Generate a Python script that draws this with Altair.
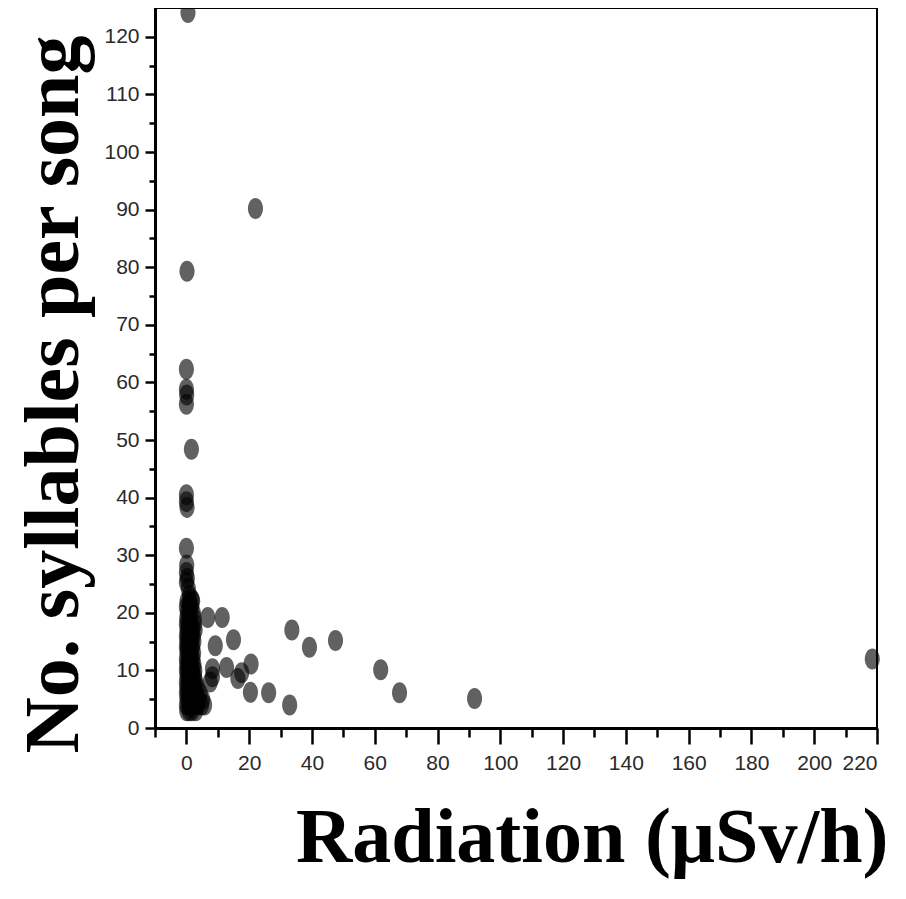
import altair as alt
import pandas as pd

# ---- data (radiation µSv/h, syllables per song) ----
radiation = [
    # high outliers near zero radiation
    0.5, 0.2, 0.0, 0.0, 0.1, 0.0, 0.0, 1.6,
    0.0, 0.2, 0.0,
    0.1, 0.0, 0.3, 0.0, 0.6, 1.8, 1.0,
    # dense cluster
    0.2, 1.0, 2.0,
    0.0, 0.8, 1.6,
    0.3, 1.2, 2.2,
    0.1, 0.9, 2.5,
    0.0, 0.6, 1.4, 2.6,
    0.2, 1.0, 2.0, 2.8,
    0.0, 0.5, 1.3, 2.2,
    0.1, 0.8, 1.7, 2.4,
    0.0, 0.4, 1.1, 2.0,
    0.2, 0.9, 1.6, 2.3,
    0.0, 0.6, 1.3, 2.1,
    0.1, 0.7, 1.5, 2.4,
    0.0, 0.5, 1.2, 2.0, 2.7,
    0.2, 0.9, 1.8, 2.6,
    0.0, 0.6, 1.4, 2.3, 3.0,
    0.1, 0.8, 1.7, 2.8, 3.5,
    0.0, 0.5, 1.3, 2.2, 3.2, 4.4,
    0.2, 1.0, 2.0, 3.0, 4.0, 5.2,
    0.0, 0.7, 1.6, 2.5, 3.6, 4.8, 5.8,
    0.1, 0.9, 1.8, 3.0,
    # spread-out points
    22.0, 6.8, 11.4, 33.6, 9.2, 15.0, 39.2, 47.5,
    8.3, 12.8, 20.6, 8.3, 16.4, 17.6, 7.6,
    20.4, 26.2, 32.9, 61.9, 67.9, 91.8, 218.5,
]
syllables = [
    124.2, 79.3, 62.3, 58.8, 57.8, 56.2, 40.5, 48.4,
    39.3, 38.3, 31.2,
    28.3, 27.0, 26.0, 25.3, 24.2, 22.3, 23.0,
    22, 22, 22,
    21, 21, 21,
    20, 20, 20,
    19, 19, 19,
    18, 18, 18, 18,
    17, 17, 17, 17,
    16, 16, 16, 16,
    15, 15, 15, 15,
    14, 14, 14, 14,
    13, 13, 13, 13,
    12, 12, 12, 12,
    11, 11, 11, 11,
    10, 10, 10, 10, 10,
    9, 9, 9, 9,
    8, 8, 8, 8, 8,
    7, 7, 7, 7, 7,
    6, 6, 6, 6, 6, 6,
    5, 5, 5, 5, 5, 5,
    4, 4, 4, 4, 4, 4, 4,
    3, 3, 3, 3,
    90.2, 19.2, 19.2, 17.0, 14.3, 15.3, 14.0, 15.2,
    10.3, 10.5, 11.1, 8.9, 8.6, 9.6, 8.0,
    6.2, 6.1, 4.0, 10.1, 6.1, 5.1, 12.0,
]

x_major = [0, 20, 40, 60, 80, 100, 120, 140, 160, 180, 200, 220]
x_minor = [-10, 10, 30, 50, 70, 90, 110, 130, 150, 170, 190, 210]
y_major = [0, 10, 20, 30, 40, 50, 60, 70, 80, 90, 100, 110, 120]
y_minor = [5, 15, 25, 35, 45, 55, 65, 75, 85, 95, 105, 115]

df = pd.DataFrame({"radiation": radiation, "syllables": syllables})

ellipse = "M -0.72 0 A 0.72 1 0 1 0 0.72 0 A 0.72 1 0 1 0 -0.72 0 Z"
label_font = "Liberation Sans"
title_font = "Liberation Serif"

xscale = alt.Scale(domain=[-10, 220], nice=False, zero=False)
yscale = alt.Scale(domain=[0, 125], nice=False, zero=False)

points = alt.Chart(df).mark_point(
    shape=ellipse, size=441, filled=True, color="black", opacity=0.62, strokeWidth=0
).encode(
    x=alt.X("radiation:Q", scale=xscale, axis=alt.Axis(
        orient="bottom", values=x_major, grid=False,
        domainColor="black", domainWidth=3, tickColor="black", tickWidth=2.5, tickSize=16,
        labelFont=label_font, labelFontSize=21, labelColor="#2a2a2a", labelPadding=8,
        title="Radiation (μSv/h)", titleFont=title_font, titleFontSize=78,
        titleFontWeight="bold", titleColor="black", titleX=733, titleY=133,
        titleAlign="right", titleBaseline="alphabetic")),
    y=alt.Y("syllables:Q", scale=yscale, axis=alt.Axis(
        orient="left", values=y_major, grid=False,
        domainColor="black", domainWidth=3, tickColor="black", tickWidth=2.5, tickSize=10,
        labelFont=label_font, labelFontSize=21, labelColor="#2a2a2a", labelPadding=6,
        title="No. syllables per song", titleFont=title_font, titleFontSize=78,
        titleFontWeight="bold", titleColor="black", titleX=-78, titleY=386,
        titleAngle=270, titleAlign="center", titleBaseline="alphabetic")),
)

minor = alt.Chart(df).mark_point(opacity=0).encode(
    x=alt.X("radiation:Q", scale=xscale, axis=alt.Axis(
        orient="bottom", values=x_minor, grid=False, domain=False, labels=False,
        tickColor="black", tickWidth=2.5, tickSize=9, title=None)),
    y=alt.Y("syllables:Q", scale=yscale, axis=alt.Axis(
        orient="left", values=y_minor, grid=False, domain=False, labels=False,
        tickColor="black", tickWidth=2.5, tickSize=6, title=None)),
)

chart = alt.layer(minor, points).resolve_axis(
    x="independent", y="independent"
).properties(
    width=722, height=720,
    padding={"left": 147, "top": 0, "right": 21, "bottom": 163},
    autosize=alt.AutoSizeParams(type="none"),
).configure_view(stroke="black", strokeWidth=2)

chart.save("out.html", embed_options={"renderer": "svg", "actions": False})
